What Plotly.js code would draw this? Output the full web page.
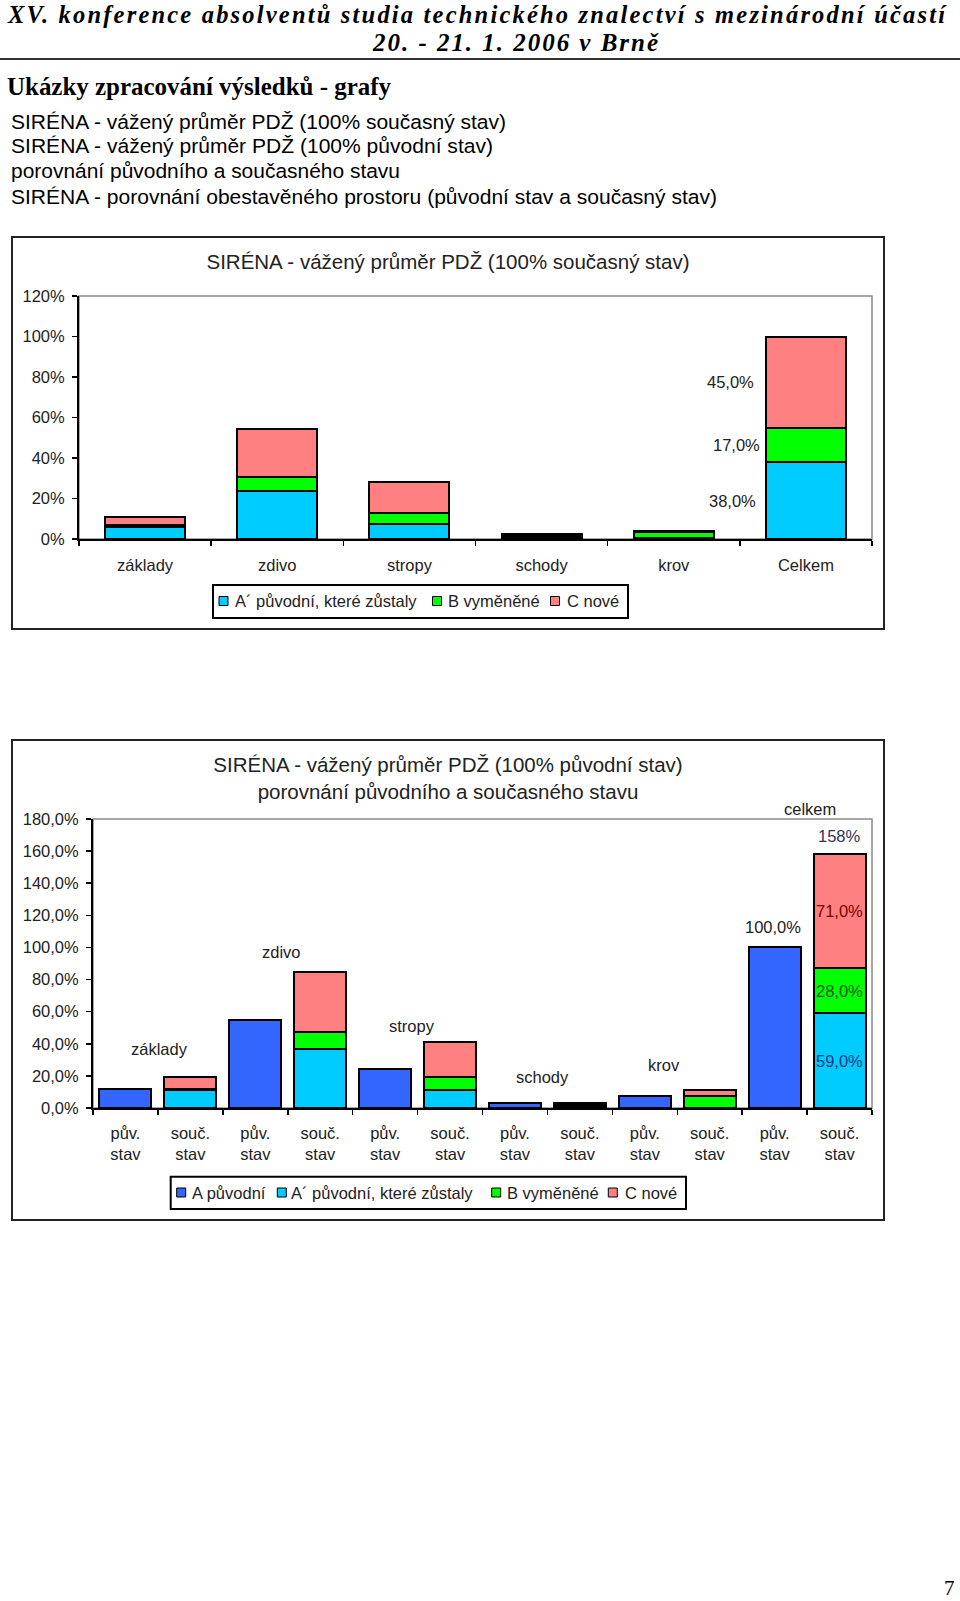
<!DOCTYPE html>
<html><head><meta charset="utf-8">
<script src="https://cdn.plot.ly/plotly-3.0.1.min.js"></script>
<style>
html,body{margin:0;padding:0;background:#fff;}
body{width:960px;height:1601px;position:relative;overflow:hidden;}
#page{position:absolute;left:0;top:0;}
.chart{position:absolute;outline:2px solid #222;outline-offset:-1px;background:#fff;}
</style></head>
<body>
<svg id="page" width="960" height="1601" xmlns="http://www.w3.org/2000/svg">
 <g fill="#000">
  <text x="8" y="22.5" font-family="Liberation Serif" font-weight="bold" font-style="italic" font-size="24.5" textLength="937" lengthAdjust="spacing">XV. konference absolventů studia technického znalectví s mezinárodní účastí</text>
  <text x="373" y="51" font-family="Liberation Serif" font-weight="bold" font-style="italic" font-size="25" textLength="285" lengthAdjust="spacing">20. - 21. 1. 2006 v Brně</text>
  <line x1="0" y1="59" x2="960" y2="59" stroke="#333" stroke-width="2"/>
  <text x="7" y="95" font-family="Liberation Serif" font-weight="bold" font-size="25" textLength="384" lengthAdjust="spacingAndGlyphs">Ukázky zpracování výsledků - grafy</text>
  <text x="11" y="128.5" font-family="Liberation Sans" font-size="20.5" textLength="495" lengthAdjust="spacingAndGlyphs">SIRÉNA - vážený průměr PDŽ (100% současný stav)</text>
  <text x="11" y="153" font-family="Liberation Sans" font-size="20.5" textLength="482" lengthAdjust="spacingAndGlyphs">SIRÉNA - vážený průměr PDŽ (100% původní stav)</text>
  <text x="11" y="177.5" font-family="Liberation Sans" font-size="20.5" textLength="389" lengthAdjust="spacingAndGlyphs">porovnání původního a současného stavu</text>
  <text x="11" y="204" font-family="Liberation Sans" font-size="20.5" textLength="706" lengthAdjust="spacingAndGlyphs">SIRÉNA - porovnání obestavěného prostoru (původní stav a současný stav)</text>
  <text x="944" y="1595" font-family="Liberation Serif" font-size="21">7</text>
 </g>
</svg>
<div id="c1" class="chart" style="left:12px;top:237px;width:872px;height:392px"></div>
<div id="c2" class="chart" style="left:12px;top:740px;width:872px;height:480px"></div>
<script>
// ---------- data: chart 1 (100% = current state) ----------
const categories1 = ['základy', 'zdivo', 'stropy', 'schody', 'krov', 'Celkem'];
const remained1 = [6, 23.5, 7.5, 1, 0.3, 38];      // A´ původní, které zůstaly
const replaced1 = [1, 7, 5.5, 0.5, 3.3, 17];       // B vyměněné
const newParts1 = [3.8, 24, 15, 0.8, 0.4, 45];     // C nové

// ---------- data: chart 2 (100% = original state) ----------
const groups2 = ['základy', 'zdivo', 'stropy', 'schody', 'krov', 'celkem'];
const stateLabels2 = ['pův.<br>stav', 'souč.<br>stav'];
const original2 = [12, 55, 24, 3, 7.5, 100];       // A původní
const remained2 = [11, 36.5, 11.5, 1.2, 0.3, 59];  // A´ původní, které zůstaly
const replaced2 = [1, 11, 7.5, 0.8, 7, 28];        // B vyměněné
const newParts2 = [7, 37, 22, 1, 3.7, 71];         // C nové

const seriesNames = ['A původní', 'A´ původní, které zůstaly', 'B vyměněné', 'C nové'];
const seriesColors = ['#3366FF', '#00CCFF', '#00FF00', '#FF8080'];

const FONT = 'Liberation Sans, Arial, sans-serif';
const TXT = '#222';
const fmt1 = v => v.toFixed(1).replace('.', ',') + '%';

function baseAxisY(range, dtick, fmt) {
  return {range: range, dtick: dtick, tick0: 0, tickformat: fmt, ticksuffix: '%',
    showline: true, linecolor: '#000', linewidth: 2, ticks: 'outside', ticklen: 5,
    tickwidth: 1.5, tickcolor: '#000', showgrid: false, zeroline: false,
    ticklabelstandoff: 4, fixedrange: true};
}
function baseAxisX() {
  return {type: 'category', showline: true, linecolor: '#000', linewidth: 2,
    ticks: 'outside', ticklen: 5, tickwidth: 1.5, tickcolor: '#000',
    tickson: 'boundaries', showgrid: false, zeroline: false, fixedrange: true};
}
function bar(x, y, name, color) {
  return {type: 'bar', x: x, y: y, name: name, hoverinfo: 'skip', showlegend: false,
    marker: {color: color, line: {color: '#000', width: 2}}};
}
const frameShape = {type: 'rect', xref: 'paper', yref: 'paper', x0: 0, x1: 1, y0: 0, y1: 1,
  line: {color: '#8a8a8a', width: 1.5}, layer: 'below'};

// legend drawn as shapes + annotations (pixel positions relative to the chart box)
function addLegend(layout, names, colors, box, squaresX, textsX, cy) {
  const m = layout.margin;
  const pw = layout.width - m.l - m.r, ph = layout.height - m.t - m.b;
  const X = p => (p - m.l) / pw, Y = p => (layout.height - m.b - p) / ph;
  layout.shapes.push({type: 'rect', xref: 'paper', yref: 'paper', x0: X(box[0]), x1: X(box[1]),
    y0: Y(box[3]), y1: Y(box[2]), line: {color: '#000', width: 2}, fillcolor: '#fff', layer: 'above'});
  const s = 9;
  names.forEach((n, i) => {
    layout.shapes.push({type: 'rect', xref: 'paper', yref: 'paper',
      x0: X(squaresX[i]), x1: X(squaresX[i] + s), y0: Y(cy + s / 2), y1: Y(cy - s / 2),
      line: {color: '#000', width: 1}, fillcolor: colors[i], layer: 'above'});
    layout.annotations.push({xref: 'paper', yref: 'paper', x: X(textsX[i]), y: Y(cy),
      text: n, showarrow: false, xanchor: 'left', yanchor: 'middle', xshift: -2,
      font: {size: 16.5, color: TXT}});
  });
}

// ---------- chart 1 ----------
const traces1 = [
  bar(categories1, remained1, seriesNames[1], seriesColors[1]),
  bar(categories1, replaced1, seriesNames[2], seriesColors[2]),
  bar(categories1, newParts1, seriesNames[3], seriesColors[3])
];
const last1 = categories1.length - 1;
const seg1 = [remained1[last1], replaced1[last1], newParts1[last1]];
const ann1 = [];
let cum = 0;
seg1.forEach((v, k) => {
  ann1.push({x: categories1[last1], y: cum + v / 2, text: fmt1(v), showarrow: false,
    xanchor: 'right', yanchor: 'middle', xshift: [-48, -44, -50][k], font: {size: 16.5, color: TXT}});
  cum += v;
});
const H1 = 392, W = 872;
const layout1 = {
  width: W, height: H1, margin: {l: 67, r: 12, t: 59, b: 90},
  paper_bgcolor: 'rgba(0,0,0,0)', plot_bgcolor: 'rgba(0,0,0,0)',
  barmode: 'stack', bargap: 0.394, separators: ', ',
  font: {family: FONT, size: 16.5, color: TXT},
  title: {text: 'SIRÉNA - vážený průměr PDŽ (100% současný stav)', x: 0.5, xref: 'container',
    xanchor: 'center', y: 1 - 25 / H1, yref: 'container', yanchor: 'middle',
    font: {size: 20.5, color: TXT}},
  xaxis: Object.assign(baseAxisX(), {ticklabelstandoff: 10}),
  yaxis: baseAxisY([0, 120], 20, 'd'),
  showlegend: false,
  shapes: [frameShape],
  annotations: ann1
};
addLegend(layout1, seriesNames.slice(1), seriesColors.slice(1),
  [201, 616, 348, 381], [207, 420.5, 538.5], [223, 436, 555], 364);
Plotly.newPlot('c1', traces1, layout1, {staticPlot: true, displayModeBar: false});

// ---------- chart 2 ----------
const cats2 = [];
const pCats = [], sCats = [], tickText2 = [];
groups2.forEach(g => {
  pCats.push(g + ' p'); sCats.push(g + ' s');
  cats2.push(g + ' p', g + ' s');
  tickText2.push(stateLabels2[0], stateLabels2[1]);
});
const traces2 = [
  bar(pCats, original2, seriesNames[0], seriesColors[0]),
  bar(sCats, remained2, seriesNames[1], seriesColors[1]),
  bar(sCats, replaced2, seriesNames[2], seriesColors[2]),
  bar(sCats, newParts2, seriesNames[3], seriesColors[3])
];
const H2 = 480;
const yMax2 = 180;
const ann2 = [];
const groupLabelY = [37, 97, 51, 19, 27, 186];
const groupLabelDX = [2, -6, -6, -5, -13, 3];
groups2.forEach((g, i) => {
  ann2.push({x: 2 * i + 0.5, y: groupLabelY[i] / yMax2, yref: 'paper', text: g, showarrow: false,
    xshift: groupLabelDX[i], yanchor: 'middle', font: {size: 16.5, color: TXT}});
});
const li = groups2.length - 1;
ann2.push({x: 2 * li, y: original2[li], text: fmt1(original2[li]), showarrow: false,
  yanchor: 'bottom', yshift: 9, xshift: -2, font: {size: 16.5, color: TXT}});
const total2 = remained2[li] + replaced2[li] + newParts2[li];
ann2.push({x: 2 * li + 1, y: total2, text: Math.round(total2) + '%', showarrow: false,
  yanchor: 'bottom', yshift: 7, font: {size: 16.5, color: '#333355'}});
const segCols2 = ['#003a80', '#005a00', '#7a0000'];
let c2 = 0;
[remained2[li], replaced2[li], newParts2[li]].forEach((v, k) => {
  ann2.push({x: 2 * li + 1, y: c2 + v / 2, text: fmt1(v), showarrow: false,
    yanchor: 'middle', font: {size: 16.5, color: segCols2[k]}});
  c2 += v;
});
const layout2 = {
  width: W, height: H2, margin: {l: 81, r: 12, t: 79, b: 112},
  paper_bgcolor: 'rgba(0,0,0,0)', plot_bgcolor: 'rgba(0,0,0,0)',
  barmode: 'stack', bargap: 0.2, separators: ', ',
  font: {family: FONT, size: 16.5, color: TXT},
  title: {text: 'SIRÉNA - vážený průměr PDŽ (100% původní stav)<br>porovnání původního a současného stavu',
    x: 0.5, xref: 'container', xanchor: 'center', y: 1 - 32 / H2, yref: 'container',
    yanchor: 'middle', font: {size: 20.5, color: TXT}},
  xaxis: Object.assign(baseAxisX(), {categoryorder: 'array', categoryarray: cats2,
    tickvals: cats2, ticktext: tickText2, ticklabelstandoff: 9}),
  yaxis: baseAxisY([0, yMax2], 20, '.1f'),
  showlegend: false,
  shapes: [frameShape],
  annotations: ann2
};
addLegend(layout2, seriesNames, seriesColors,
  [158.7, 674, 436.7, 469], [164.7, 265.3, 479.7, 596.3], [179.7, 278.7, 494.7, 613], 452.5);
Plotly.newPlot('c2', traces2, layout2, {staticPlot: true, displayModeBar: false});
</script>
</body></html>
